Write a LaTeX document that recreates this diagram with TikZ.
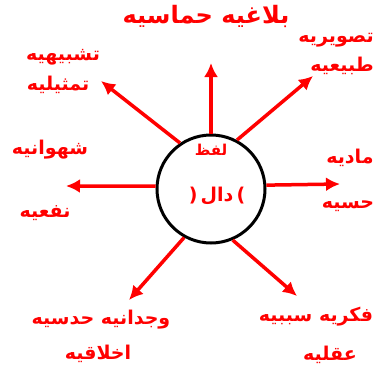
\documentclass[tikz,border=0pt]{standalone}
\usepackage{fontspec}
\newfontfamily\arabicfont[Script=Arabic]{DejaVu Sans}
\TeXXeTstate=1
\definecolor{rayred}{RGB}{255,0,0}
\usetikzlibrary{arrows.meta,positioning}
\newcommand{\rtl}[1]{\beginR #1\endR}

\begin{document}
\begin{tikzpicture}[x=1pt,y=-1pt,
    wordtext/.style={text=rayred, inner sep=0pt, font=\arabicfont\bfseries\fontsize{19}{23}\selectfont},
    spoke/.style={draw=rayred, line width=3.5pt, -{Latex[length=14pt,width=14pt]}}]
    \useasboundingbox (0,0) rectangle (375,375);
    % centre
    \node[circle, draw=black, line width=3pt, minimum size=108pt, inner sep=0pt] (lafz) at (211,189) {};
    \node[wordtext, font=\arabicfont\bfseries\fontsize{15}{18}\selectfont] (lafzword) at (211,150) {\rtl{لفظ}};
    \node[wordtext] (dal) at (217,196) {(\,\rtl{دال}\,)};
    % arrow tips
    \coordinate (tipN) at (211,63);
    \coordinate (tipNW) at (101,81);
    \coordinate (tipNE) at (313,76);
    \coordinate (tipW) at (66,186);
    \coordinate (tipE) at (340,184);
    \coordinate (tipSW) at (129,300);
    \coordinate (tipSE) at (297,296);
    \draw[spoke] (lafz.90) -- (tipN);
    \draw[spoke] (lafz.124) -- (tipNW);
    \draw[spoke] (lafz.62) -- (tipNE);
    \draw[spoke] (lafz.177) -- (tipW);
    \draw[spoke] (lafz.4) -- (tipE);
    \draw[spoke] (lafz.241) -- (tipSW);
    \draw[spoke] (lafz.293) -- (tipSE);
    % labels
    \node[wordtext, font=\arabicfont\bfseries\fontsize{24}{28}\selectfont] (balagha) at (206,16) {\rtl{بلاغيه حماسيه}};
    \node[wordtext] (tashbih) at (63,57) {\rtl{تشبيهيه}};
    \node[wordtext] (tamthil) at (58,85) {\rtl{تمثيليه}};
    \node[wordtext, anchor=east] (taswir) at (374,40) {\rtl{تصويريه}};
    \node[wordtext, anchor=east] (tabii) at (374,66) {\rtl{طبيعيه}};
    \node[wordtext] (shahwa) at (50,150) {\rtl{شهوانيه}};
    \node[wordtext] (nafi) at (45,213) {\rtl{نفعيه}};
    \node[wordtext] (madi) at (350,158) {\rtl{ماديه}};
    \node[wordtext] (hissi) at (348,206) {\rtl{حسيه}};
    \node[wordtext] (wijdan) at (101,320) {\rtl{وجدانيه حدسيه}};
    \node[wordtext] (akhlaq) at (98,354) {\rtl{اخلاقيه}};
    \node[wordtext] (fikri) at (316,317) {\rtl{فكريه سببيه}};
    \node[wordtext] (aqli) at (330,355) {\rtl{عقليه}};
\end{tikzpicture}
\end{document}
